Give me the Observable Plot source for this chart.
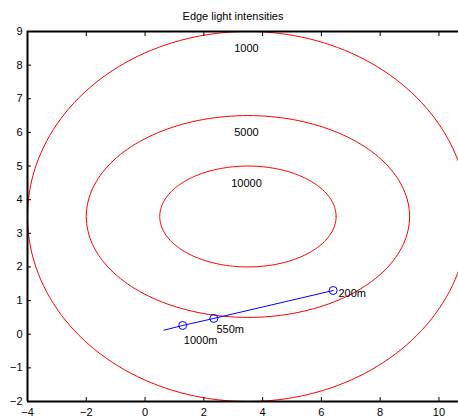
<!DOCTYPE html>
<html><head><meta charset="utf-8">
<script src="https://cdn.jsdelivr.net/npm/d3@7"></script>
<script src="https://cdn.jsdelivr.net/npm/@observablehq/plot@0.6"></script>
<style>
body{margin:0;background:#fff;font-family:"Liberation Sans",Arial,sans-serif}
#title{height:24px;box-sizing:border-box;padding-top:10px;font-size:11px;line-height:13px;width:458px;text-align:center;padding-left:8px;color:#000}
</style></head><body>
<div id="title">Edge light intensities</div>
<div id="chart"></div>
<script>
const levels = [1000, 5000, 10000];
const centerX = 3.5, centerY = 3.5;
const semiAxisX = [7.5, 5.5, 3];
const semiAxisY = [5.5, 3, 1.5];
const levelLabelX = 3.45;
const levelLabelY = [8.5, 6.0, 4.47];
const pathX = [0.64, 1.28, 2.34, 6.40];
const pathY = [0.12, 0.26, 0.47, 1.30];
const markerX = [1.28, 2.34, 6.40];
const markerY = [0.26, 0.47, 1.30];
const markerLabels = ["1000m", "550m", "200m"];
const labelX = [1.32, 2.43, 6.58];
const labelY = [-0.19, 0.14, 1.21];
const xTicks = [-4, -2, 0, 2, 4, 6, 8, 10];
const yTicks = [-2, -1, 0, 1, 2, 3, 4, 5, 6, 7, 8, 9];

const ellipsePts = levels.flatMap((lev, i) =>
  d3.range(0, 361, 2).map(deg => ({
    level: lev,
    x: centerX + semiAxisX[i] * Math.cos(deg * Math.PI / 180),
    y: centerY + semiAxisY[i] * Math.sin(deg * Math.PI / 180)
  })));
const path = pathX.map((x, i) => ({x, y: pathY[i]}));
const markers = markerX.map((x, i) => ({x, y: markerY[i]}));
const labels = markerLabels.map((t, i) => ({t, x: labelX[i], y: labelY[i]}));
const levelLabels = levels.map((lev, i) => ({t: String(lev), x: levelLabelX, y: levelLabelY[i]}));

const chart = Plot.plot({
  width: 458, height: 394,
  marginLeft: 27, marginRight: 0, marginTop: 7, marginBottom: 17,
  style: {fontFamily: '"Liberation Sans", Arial, sans-serif', fontSize: "11px", background: "#fff", overflow: "visible"},
  x: {domain: [-4, -4 + 431 / 29.39], label: null},
  y: {domain: [-2, 9], label: null},
  marks: [
    Plot.line(ellipsePts, {x: "x", y: "y", z: "level", stroke: "#ff0000", strokeWidth: 1, clip: true}),
    Plot.text(levelLabels, {x: "x", y: "y", text: "t", fontSize: 11, fill: "#000"}),
    Plot.line(path, {x: "x", y: "y", stroke: "#0000ff", strokeWidth: 1}),
    Plot.dot(markers, {x: "x", y: "y", r: 4, stroke: "#0000ff", fill: "none", strokeWidth: 1}),
    Plot.text(labels, {x: "x", y: "y", text: "t", textAnchor: "start", fontSize: 11, fill: "#000"}),
    Plot.ruleX([-4], {stroke: "#000", strokeWidth: 2}),
    Plot.ruleY([-2, 9], {stroke: "#000", strokeWidth: 2}),
    Plot.axisX(xTicks, {anchor: "bottom", tickSize: -4, tickPadding: 11, fontSize: 11, label: null, stroke: "#000"}),
    Plot.axisX(xTicks, {anchor: "top", tickSize: -4, tickFormat: () => "", label: null}),
    Plot.axisY(yTicks, {anchor: "left", tickSize: -4, tickPadding: 9, fontSize: 11, label: null})
  ]
});
document.getElementById("chart").appendChild(chart);
</script>
</body></html>
